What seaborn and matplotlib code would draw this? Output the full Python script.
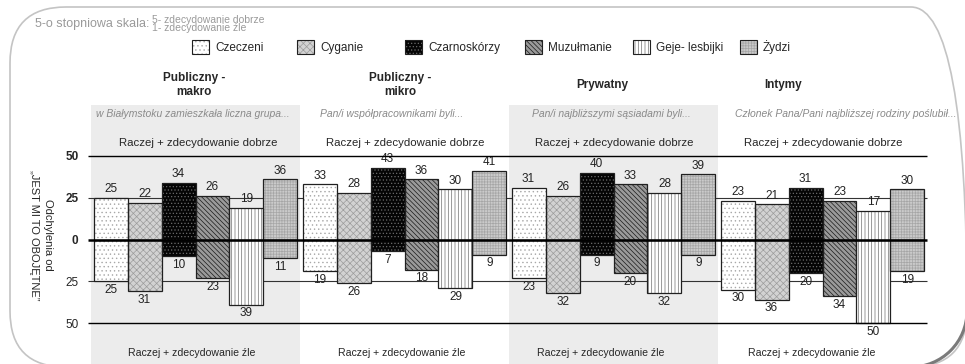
import pandas as pd
import seaborn as sns
import matplotlib.pyplot as plt
from matplotlib.patches import Patch, Rectangle, FancyBboxPatch, Arc

# data
groups = ['Publiczny -\nmakro', 'Publiczny -\nmikro', 'Prywatny', 'Intymy']
subtitles = ['w Białymstoku zamieszkała liczna grupa...',
             'Pan/i współpracownikami byli...',
             'Pan/i najbliższymi sąsiadami byli...',
             'Członek Pana/Pani najbliższej rodziny poślubił...']
nations = ['Czeczeni', 'Cyganie', 'Czarnoskórzy', 'Muzułmanie', 'Geje- lesbijki', 'Żydzi']

good_makro = [25, 22, 34, 26, 19, 36]
bad_makro = [25, 31, 10, 23, 39, 11]
good_mikro = [33, 28, 43, 36, 30, 41]
bad_mikro = [19, 26, 7, 18, 29, 9]
good_prywatny = [31, 26, 40, 33, 28, 39]
bad_prywatny = [23, 32, 9, 20, 32, 9]
good_intymy = [23, 21, 31, 23, 17, 30]
bad_intymy = [30, 36, 20, 34, 50, 19]

ytick_vals = [50, 25, 0, -25, -50]
ytick_labels = ['50', '25', '0', '25', '50']

# styles per nation: facecolor, hatch, hatch colour
styles = [
    ('white', '....', '#a8a8a8'),
    ('#d2d2d2', 'xxxxx', '#9c9c9c'),
    ('#050505', '.....', '#6a6a6a'),
    ('#9a9a9a', '\\' * 7, '#1a1a1a'),
    ('white', '|||||', '#707070'),
    ('#cacaca', '++++++', '#a6a6a6'),
]

# text placement (pixels)
W, H = 965, 364
title_x = [194, 400, 602, 783]
subtitle_x = [193, 392, 611, 846]
good_x = [198, 405, 614, 823]
bad_x = [192, 402, 601, 812]
legend_x = [192, 297, 405, 525, 633, 740]

sns.set_style('white')
plt.rcParams['font.family'] = ['Liberation Sans', 'DejaVu Sans']
plt.rcParams['hatch.linewidth'] = 0.5

fig = plt.figure(figsize=(W / 100, H / 100), dpi=100)

# background frame, pixel coordinates (y up)
bg = fig.add_axes([0, 0, 1, 1], zorder=-1)
bg.set_xlim(0, W)
bg.set_ylim(0, H)
bg.axis('off')
bg.add_patch(FancyBboxPatch((10, H - 367), 957, 360, boxstyle='round,pad=0,rounding_size=56',
                            fill=False, ec='#c4c4c4', lw=1.2))
bg.add_patch(Arc((967 - 56, H - 367 + 56), 112, 112, theta1=270, theta2=360,
                 color='#7a7a7a', lw=2.2))

good_all = [good_makro, good_mikro, good_prywatny, good_intymy]
bad_all = [bad_makro, bad_mikro, bad_prywatny, bad_intymy]
rows = []
for g, gv, bv in zip(groups, good_all, bad_all):
    for n, a, b in zip(nations, gv, bv):
        rows.append({'group': g, 'nation': n, 'good': a, 'bad': -b})
df = pd.DataFrame(rows)

ax = fig.add_axes([91 / W, 0, 836 / W, (H - 105) / H])
ax.set_facecolor('none')
ax.axvspan(-0.5, 0.5, color='#ececec', zorder=0, lw=0)
ax.axvspan(1.5, 2.5, color='#ececec', zorder=0, lw=0)

sns.barplot(data=df, x='group', y='good', hue='nation', order=groups, hue_order=nations,
            width=0.975, gap=0, errorbar=None, legend=False, ax=ax, zorder=3)
sns.barplot(data=df, x='group', y='bad', hue='nation', order=groups, hue_order=nations,
            width=0.975, gap=0, errorbar=None, legend=False, ax=ax, zorder=3)

for i, cont in enumerate(ax.containers):
    fc, hatch, hc = styles[i % 6]
    for p in cont:
        p.set_facecolor(fc)
        p.set_hatch(hatch)
        p.set_edgecolor(hc)
        p.set_linewidth(0)
        ax.add_patch(Rectangle(p.get_xy(), p.get_width(), p.get_height(), fill=False,
                               ec='#202020', lw=0.9, zorder=4))
    ax.bar_label(cont, labels=[f'{abs(v):.0f}' for v in cont.datavalues],
                 padding=2, fontsize=8.5, color='#222222')

ax.set_xlim(-0.5, 3.5)
ax.set_ylim(-74.5, 80.5)
ax.hlines([25, -25], -0.515, 3.5, color='#333333', lw=0.8, zorder=1, clip_on=False)
ax.hlines([50, -50], -0.515, 3.5, color='black', lw=1.0, zorder=5, clip_on=False)
ax.hlines(0, -0.515, 3.5, color='black', lw=1.8, zorder=6, clip_on=False)

ax.set_xticks([])
ax.set_xlabel('')
ax.set_ylabel('')
ax.set_yticks(ytick_vals)
ax.set_yticklabels(ytick_labels, fontsize=8.5)
for t, v in zip(ax.get_yticklabels(), ytick_vals):
    if v >= 0:
        t.set_fontweight('bold')
ax.tick_params(axis='y', length=0, pad=9)
sns.despine(ax=ax, left=True, bottom=True)

# group texts
for i in range(len(groups)):
    fig.text(title_x[i] / W, 1 - 85 / H, groups[i], ha='center', va='center',
             fontsize=8.5, fontweight='bold', linespacing=1.3)
    fig.text(subtitle_x[i] / W, 1 - 114 / H, subtitles[i], ha='center', va='center',
             fontsize=7.5, style='italic', color='#8a8a8a')
    fig.text(good_x[i] / W, 1 - 143 / H, 'Raczej + zdecydowanie dobrze', ha='center',
             va='center', fontsize=8.2)
    fig.text(bad_x[i] / W, 1 - 353 / H, 'Raczej + zdecydowanie źle', ha='center',
             va='center', fontsize=7.6)

fig.text(41 / W, 1 - 235 / H, 'Odchylenia od\n„JEST MI TO OBOJĘTNE”', rotation=270,
         ha='center', va='center', fontsize=8, multialignment='center', linespacing=1.4)

# scale note
fig.text(35 / W, 1 - 24 / H, '5-o stopniowa skala:', ha='left', va='center',
         fontsize=9, color='#9a9a9a')
fig.text(152 / W, 1 - 24 / H, '5- zdecydowanie dobrze\n1- zdecydowanie źle', ha='left',
         va='center', fontsize=7.5, color='#9a9a9a', linespacing=0.85)

# legend: one entry per position
for (fc, hatch, hc), name, lx in zip(styles, nations, legend_x):
    h = (Patch(facecolor=fc, hatch=hatch, edgecolor=hc, lw=0),
         Patch(fill=False, edgecolor='#202020', lw=0.8))
    fig.legend([h], [name], loc='center left', bbox_to_anchor=(lx / W, 1 - 47 / H),
               frameon=False, fontsize=8.5, handlelength=1.45, handleheight=1.45,
               handletextpad=0.5, borderpad=0, borderaxespad=0)

fig.savefig('out.png', dpi=100)
